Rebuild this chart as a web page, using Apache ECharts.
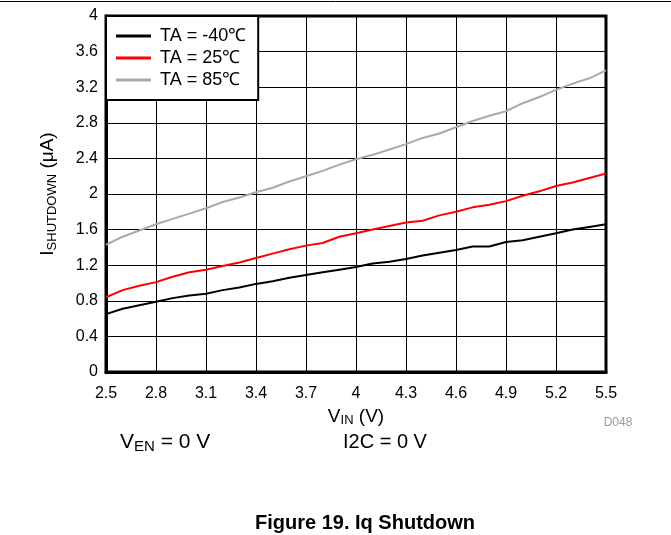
<!DOCTYPE html>
<html>
<head>
<meta charset="utf-8">
<script src="https://cdn.jsdelivr.net/npm/echarts@6/dist/echarts.min.js"></script>
<style>html,body{margin:0;padding:0;background:#fff}#c{width:671px;height:535px}</style>
</head>
<body>
<div id="c"></div>
<script>
// V_IN (V), 0.1 V steps
const vin = ['2.5','2.6','2.7','2.8','2.9','3.0','3.1','3.2','3.3','3.4','3.5','3.6','3.7','3.8','3.9','4.0','4.1','4.2','4.3','4.4','4.5','4.6','4.7','4.8','4.9','5.0','5.1','5.2','5.3','5.4','5.5'];
// I_SHUTDOWN (uA)
const taM40 = [0.65,0.71,0.75,0.79,0.83,0.86,0.88,0.92,0.95,0.99,1.02,1.06,1.09,1.12,1.15,1.18,1.22,1.24,1.27,1.31,1.34,1.37,1.41,1.41,1.46,1.48,1.52,1.56,1.60,1.63,1.66];
const ta25  = [0.84,0.92,0.97,1.01,1.07,1.12,1.15,1.19,1.23,1.28,1.33,1.38,1.42,1.45,1.52,1.56,1.60,1.64,1.68,1.70,1.76,1.80,1.85,1.88,1.92,1.98,2.03,2.09,2.13,2.18,2.23];
const ta85  = [1.43,1.52,1.59,1.66,1.72,1.78,1.84,1.91,1.96,2.02,2.07,2.14,2.20,2.26,2.33,2.39,2.44,2.50,2.56,2.63,2.68,2.75,2.82,2.88,2.93,3.02,3.09,3.17,3.24,3.30,3.39];
const seriesNames = ['TA = -40\u2103','TA = 25\u2103','TA = 85\u2103'];
const seriesColors = ['#000000','#ff0000','#a9a9a9'];

const FONT = '"Liberation Sans", Arial, sans-serif';
const chart = echarts.init(document.getElementById('c'));
const fmt = v => String(+Number(v).toFixed(1));

chart.setOption({
  animation: false,
  backgroundColor: '#fff',
  textStyle: { fontFamily: FONT, color: '#000' },
  grid: { left: 106, right: 65, top: 16, bottom: 163, show: true, borderColor: '#000', borderWidth: 3, backgroundColor: 'transparent' },
  legend: {
    orient: 'vertical', left: 106, top: 16,
    padding: [10, 12, 10, 10], itemGap: 2,
    itemWidth: 35, itemHeight: 3, icon: 'rect',
    backgroundColor: '#fff', borderColor: '#000', borderWidth: 2, borderRadius: 0,
    textStyle: { fontFamily: FONT, fontSize: 18, color: '#000', lineHeight: 20, padding: [0, 0, 0, 4] },
    data: seriesNames, z: 10
  },
  xAxis: {
    type: 'category', data: vin, boundaryGap: false,
    axisLine: { show: true, lineStyle: { color: '#000', width: 3 } },
    axisTick: { show: false },
    axisLabel: { interval: 2, formatter: fmt, fontSize: 16, color: '#000', margin: 14, fontFamily: FONT },
    splitLine: { show: true, interval: 2, lineStyle: { color: '#000', width: 1 } },
    name: '{a|V}{b|IN}{a| (V)}', nameLocation: 'middle', nameGap: 31,
    nameTextStyle: { rich: {
      a: { fontSize: 19, lineHeight: 22, fontFamily: FONT, color: '#000' },
      b: { fontSize: 13, lineHeight: 12, verticalAlign: 'bottom', fontFamily: FONT, color: '#000' }
    } }
  },
  yAxis: {
    type: 'value', min: 0, max: 4, interval: 0.4,
    axisLine: { show: true, lineStyle: { color: '#000', width: 3 } },
    axisTick: { show: false },
    axisLabel: { formatter: fmt, fontSize: 16, color: '#000', margin: 8, fontFamily: FONT },
    splitLine: { show: true, lineStyle: { color: '#000', width: 1 } },
    name: '{a|I}{b|SHUTDOWN}{a| (\u03bcA)}', nameLocation: 'middle', nameGap: 47, nameRotate: 90,
    nameTextStyle: { rich: {
      a: { fontSize: 19, lineHeight: 22, fontFamily: FONT, color: '#000' },
      b: { fontSize: 13, lineHeight: 12, verticalAlign: 'bottom', fontFamily: FONT, color: '#000' }
    } }
  },
  series: [taM40, ta25, ta85].map((d, i) => ({
    name: seriesNames[i], type: 'line', data: d, showSymbol: false, symbol: 'none',
    lineStyle: { color: seriesColors[i], width: 2 }, itemStyle: { color: seriesColors[i] }, z: 3
  })),
  graphic: [
    { type: 'line', shape: { x1: 0, y1: 1.5, x2: 671, y2: 1.5 }, style: { stroke: '#000', lineWidth: 1 } },
    { type: 'text', x: 618, y: 423, style: { text: 'D048', fontSize: 12, fill: '#999', fontFamily: FONT, align: 'center', verticalAlign: 'middle' } },
    { type: 'text', x: 120, y: 442, style: { text: '{a|V}{b|EN}{a| = 0 V}', verticalAlign: 'middle', fontFamily: FONT,
      rich: { a: { fontSize: 21, lineHeight: 24, fill: '#000', fontFamily: FONT }, b: { fontSize: 15, lineHeight: 14, verticalAlign: 'bottom', fill: '#000', fontFamily: FONT } } } },
    { type: 'text', x: 343, y: 442, style: { text: 'I2C = 0 V', fontSize: 20, fill: '#000', fontFamily: FONT, verticalAlign: 'middle' } },
    { type: 'text', x: 365, y: 523, style: { text: 'Figure 19. Iq Shutdown', fontSize: 20, fontWeight: 'bold', fill: '#000', fontFamily: FONT, align: 'center', verticalAlign: 'middle' } }
  ]
});
</script>
</body>
</html>
